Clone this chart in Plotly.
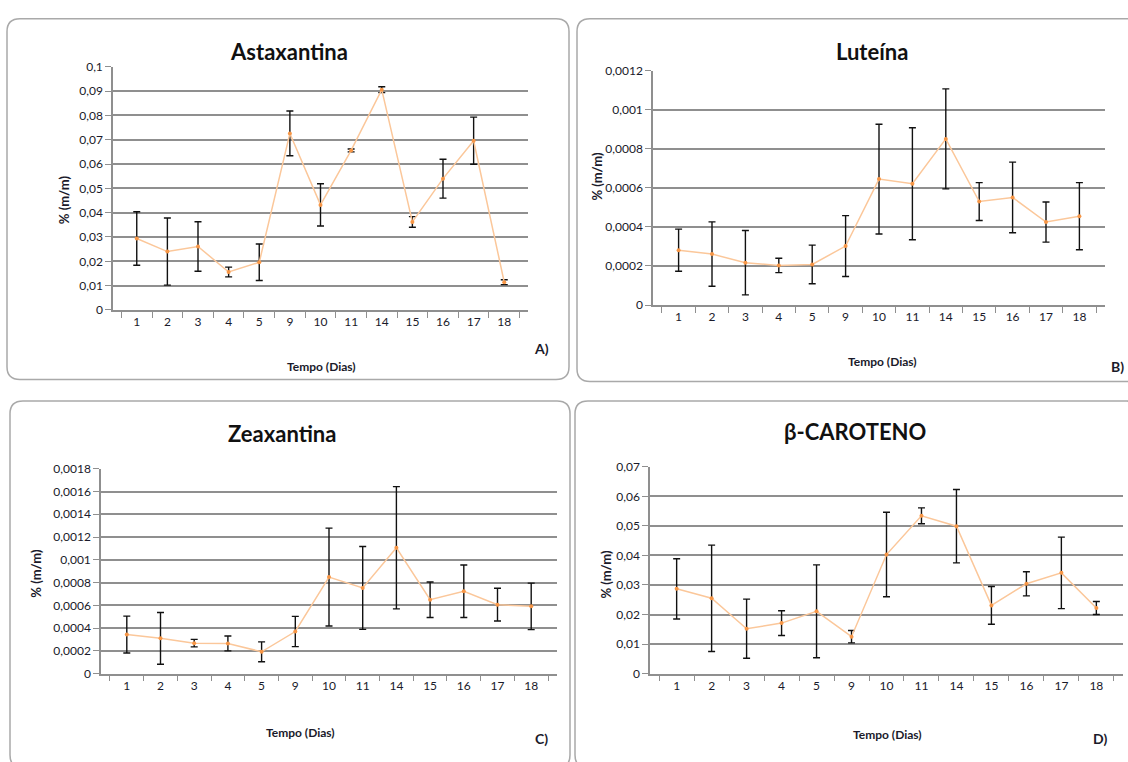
import plotly.graph_objects as go

W, H = 1128, 762

# Sampling days (categorical x axis shared by all panels)
dias = ["1", "2", "3", "4", "5", "9", "10", "11", "14", "15", "16", "17", "18"]

# Astaxantina: mean and standard deviation, % (m/m)
astaxantina = [0.0294, 0.0240, 0.0261, 0.0156, 0.0196, 0.0726, 0.0432, 0.0656, 0.0906, 0.0362, 0.0540, 0.0696, 0.0114]
astaxantina_dp = [0.0110, 0.0138, 0.0102, 0.0020, 0.0075, 0.0092, 0.0087, 0.0006, 0.0012, 0.0022, 0.0080, 0.0097, 0.0010]

# Luteína
luteina = [0.000281, 0.000261, 0.000217, 0.000203, 0.000208, 0.000302, 0.000645, 0.000621, 0.000851, 0.000530, 0.000551, 0.000425, 0.000455]
luteina_dp = [0.000108, 0.000165, 0.000165, 0.000037, 0.000099, 0.000156, 0.000281, 0.000287, 0.000256, 0.000097, 0.000181, 0.000103, 0.000172]

# Zeaxantina
zeaxantina = [0.000343, 0.000310, 0.000268, 0.000265, 0.000192, 0.000370, 0.000848, 0.000753, 0.001106, 0.000649, 0.000724, 0.000606, 0.000591]
zeaxantina_dp = [0.000162, 0.000227, 0.000033, 0.000065, 0.000087, 0.000133, 0.000430, 0.000364, 0.000537, 0.000156, 0.000231, 0.000144, 0.000204]

# β-Caroteno
betacaroteno = [0.0287, 0.0255, 0.0152, 0.0171, 0.0211, 0.0125, 0.0403, 0.0534, 0.0499, 0.0231, 0.0304, 0.0341, 0.0222]
betacaroteno_dp = [0.0102, 0.0180, 0.0100, 0.0042, 0.0157, 0.0021, 0.0143, 0.0027, 0.0124, 0.0064, 0.0041, 0.0121, 0.0022]

# Y-axis ticks per panel
ticks_a = [0, 0.01, 0.02, 0.03, 0.04, 0.05, 0.06, 0.07, 0.08, 0.09, 0.1]
ticks_b = [0, 0.0002, 0.0004, 0.0006, 0.0008, 0.001, 0.0012]
ticks_c = [0, 0.0002, 0.0004, 0.0006, 0.0008, 0.001, 0.0012, 0.0014, 0.0016, 0.0018]
ticks_d = [0, 0.01, 0.02, 0.03, 0.04, 0.05, 0.06, 0.07]

titulos = ["Astaxantina", "Luteína", "Zeaxantina", "β-CAROTENO"]
letras = ["A)", "B)", "C)", "D)"]
eixo_y = "% (m/m)"
eixo_x = "Tempo (Dias)"

FONT = "Lato"
TXT = "#1a1a2a"
GRID = "#8f8f8f"
LINE = "#fbc79a"
MARK = "#f79646"


def px(x):
    return x / W


def py(y):
    return 1 - y / H


def fmt(v):
    s = ("%.4f" % v).rstrip("0").rstrip(".")
    return s.replace(".", ",")


# Panel geometry in pixels: plot area, frame box, text anchors
panels = [
    dict(plot=(113, 60, 528, 308), box=(7, 11, 569, 379), title=(289, 44),
         ytitle=(64, 196), xtitle=(321, 366), letter=(541, 347)),
    dict(plot=(653, 64, 1105, 303), box=(577, 11, 1140, 381), title=(872, 44),
         ytitle=(597, 172), xtitle=(882, 361), letter=(1117, 366)),
    dict(plot=(101, 470, 557, 679), box=(10, 401, 570, 775), title=(282, 434),
         ytitle=(36, 577), xtitle=(300, 739), letter=(541, 745)),
    dict(plot=(650, 468, 1123, 679), box=(575, 401, 1140, 775), title=(855, 432),
         ytitle=(606, 578), xtitle=(887, 741), letter=(1100, 745)),
]

series = [
    (astaxantina, astaxantina_dp, ticks_a),
    (luteina, luteina_dp, ticks_b),
    (zeaxantina, zeaxantina_dp, ticks_c),
    (betacaroteno, betacaroteno_dp, ticks_d),
]

fig = go.Figure()
shapes = []
annotations = []

for i, (p, (vals, dp, ticks)) in enumerate(zip(panels, series)):
    n = "" if i == 0 else str(i + 1)
    xa, ya = "x" + n, "y" + n
    fig.add_trace(go.Scatter(
        x=dias, y=vals, xaxis=xa, yaxis=ya, mode="lines+markers",
        line=dict(color=LINE, width=1.5),
        marker=dict(color=MARK, size=4),
        error_y=dict(type="data", array=dp, visible=True, color="#111111",
                     thickness=1.4, width=3.5),
        showlegend=False, cliponaxis=False,
    ))
    x0, y0, x1, y1 = p["plot"]
    fig.update_layout(**{
        "xaxis" + n: dict(
            domain=[px(x0), px(x1)], anchor=ya, type="category",
            showline=True, linecolor=GRID, linewidth=1.5,
            ticks="outside", tickson="boundaries", ticklen=6, tickcolor=GRID,
            showgrid=False, tickfont=dict(family=FONT, size=12, color=TXT),
            fixedrange=True,
        ),
        "yaxis" + n: dict(
            domain=[py(y1), py(y0)], anchor=xa, range=[0, ticks[-1]],
            tickvals=ticks, ticktext=[fmt(t) for t in ticks],
            showline=True, linecolor=GRID, linewidth=1.5,
            ticks="outside", ticklen=6, tickcolor=GRID,
            showgrid=True, gridcolor=GRID, gridwidth=1.6,
            zeroline=False,
            tickfont=dict(family=FONT, size=12, color=TXT),
            fixedrange=True,
        ),
    })

    # Rounded frame around each chart
    bx0, by0, bx1, by1 = p["box"]
    r = 13
    pts = (
        f"M {px(bx0 + r)},{py(by0)} L {px(bx1 - r)},{py(by0)} "
        f"Q {px(bx1)},{py(by0)} {px(bx1)},{py(by0 + r)} "
        f"L {px(bx1)},{py(by1 - r)} Q {px(bx1)},{py(by1)} {px(bx1 - r)},{py(by1)} "
        f"L {px(bx0 + r)},{py(by1)} Q {px(bx0)},{py(by1)} {px(bx0)},{py(by1 - r)} "
        f"L {px(bx0)},{py(by0 + r)} Q {px(bx0)},{py(by0)} {px(bx0 + r)},{py(by0)} Z"
    )
    shapes.append(dict(type="path", xref="paper", yref="paper", path=pts,
                       line=dict(color="#a9a9a9", width=1.5), layer="below"))

    tx, ty = p["title"]
    annotations.append(dict(x=px(tx), y=py(ty), xref="paper", yref="paper",
                            text="<b>%s</b>" % titulos[i], showarrow=False,
                            font=dict(family=FONT, size=22, color="#111111"),
                            xanchor="center", yanchor="middle"))
    yx, yy = p["ytitle"]
    annotations.append(dict(x=px(yx), y=py(yy), xref="paper", yref="paper",
                            text="<b>%s</b>" % eixo_y, showarrow=False, textangle=-90,
                            font=dict(family=FONT, size=13, color=TXT),
                            xanchor="center", yanchor="middle"))
    xx, xy = p["xtitle"]
    annotations.append(dict(x=px(xx), y=py(xy), xref="paper", yref="paper",
                            text="<b>%s</b>" % eixo_x, showarrow=False,
                            font=dict(family=FONT, size=12, color=TXT),
                            xanchor="center", yanchor="middle"))
    lx, ly = p["letter"]
    annotations.append(dict(x=px(lx), y=py(ly), xref="paper", yref="paper",
                            text="<b>%s</b>" % letras[i], showarrow=False,
                            font=dict(family=FONT, size=14, color=TXT),
                            xanchor="center", yanchor="middle"))

fig.update_layout(
    width=W, height=H, autosize=False,
    margin=dict(l=0, r=0, t=0, b=0),
    paper_bgcolor="white", plot_bgcolor="white",
    shapes=shapes, annotations=annotations,
    font=dict(family=FONT, color=TXT),
)

fig.write_html("out.html", config={"displayModeBar": False})
